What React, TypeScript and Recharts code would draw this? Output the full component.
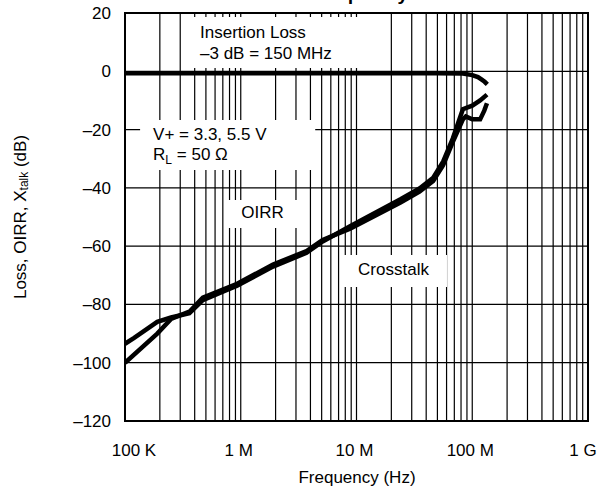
import React from "react";
import { LineChart, Line, XAxis, YAxis, CartesianGrid, ReferenceArea } from "recharts";

// decade labels on the log frequency axis
const decades = [1e5, 1e6, 1e7, 1e8, 1e9];
const decadeLabels = ["100 K", "1 M", "10 M", "100 M", "1 G"];

// every vertical grid line (1..9 per decade)
const gridFreqs = [
  1e5, 2e5, 3e5, 4e5, 5e5, 6e5, 7e5, 8e5, 9e5,
  1e6, 2e6, 3e6, 4e6, 5e6, 6e6, 7e6, 8e6, 9e6,
  1e7, 2e7, 3e7, 4e7, 5e7, 6e7, 7e7, 8e7, 9e7,
  1e8, 2e8, 3e8, 4e8, 5e8, 6e8, 7e8, 8e8, 9e8,
  1e9,
];

const dbTicks = [-120, -100, -80, -60, -40, -20, 0, 20];

const insertionLoss = [
  { f: 1e5, db: -0.7 },
  { f: 1e6, db: -0.7 },
  { f: 1e7, db: -0.7 },
  { f: 5e7, db: -0.7 },
  { f: 8.3e7, db: -0.8 },
  { f: 1.0e8, db: -1.3 },
  { f: 1.12e8, db: -2.0 },
  { f: 1.2e8, db: -2.8 },
  { f: 1.28e8, db: -3.6 },
  { f: 1.35e8, db: -4.5 },
];

const crosstalk = [
  { f: 1e5, db: -93.5 },
  { f: 1.2e5, db: -91.5 },
  { f: 1.9e5, db: -86 },
  { f: 2.5e5, db: -84.5 },
  { f: 3.6e5, db: -83 },
  { f: 4.7e5, db: -78.5 },
  { f: 7e5, db: -75.6 },
  { f: 9.3e5, db: -73.6 },
  { f: 1.9e6, db: -67 },
  { f: 3.7e6, db: -62.3 },
  { f: 5.1e6, db: -58.4 },
  { f: 8.8e6, db: -53.2 },
  { f: 2.4e7, db: -43.9 },
  { f: 3.5e7, db: -40.2 },
  { f: 4.6e7, db: -36.5 },
  { f: 5.6e7, db: -31 },
  { f: 6.8e7, db: -23 },
  { f: 8.3e7, db: -13 },
  { f: 1.0e8, db: -11.8 },
  { f: 1.17e8, db: -10 },
  { f: 1.34e8, db: -8 },
];

const oirr = [
  { f: 1e5, db: -100 },
  { f: 1.9e5, db: -90 },
  { f: 2.5e5, db: -85 },
  { f: 3.6e5, db: -82.5 },
  { f: 4.7e5, db: -77.7 },
  { f: 7e5, db: -74.9 },
  { f: 9.3e5, db: -72.9 },
  { f: 1.9e6, db: -66.3 },
  { f: 3.7e6, db: -61.7 },
  { f: 5.1e6, db: -57.9 },
  { f: 8.8e6, db: -54 },
  { f: 2.4e7, db: -45 },
  { f: 3.5e7, db: -41.3 },
  { f: 4.6e7, db: -37.6 },
  { f: 5.6e7, db: -32.2 },
  { f: 6.8e7, db: -24.2 },
  { f: 8.3e7, db: -16.5 },
  { f: 8.8e7, db: -15.5 },
  { f: 1.0e8, db: -16.5 },
  { f: 1.17e8, db: -16.5 },
  { f: 1.27e8, db: -13.5 },
  { f: 1.34e8, db: -11 },
];

// annotation boxes (white backgrounds that hide the grid), data coords
const notes = [
  { x1: 3.3e5, x2: 1.45e7, y1: 1.1, y2: 18.6, lines: ["Insertion Loss", "\u20133 dB = 150 MHz"], dx: 15, dy: [21, 42], anchor: "start" },
  { x1: 1.35e5, x2: 4.4e6, y1: -33.9, y2: -16.7, lines: ["V+ = 3.3, 5.5 V", "RL"], dx: 13, dy: [20, 40], anchor: "start" },
  { x1: 7.6e5, x2: 3.25e6, y1: -53.8, y2: -44.2, lines: ["OIRR"], dx: -1, dy: [18], anchor: "middle" },
  { x1: 7.5e6, x2: 6.05e7, y1: -74, y2: -63, lines: ["Crosstalk"], dx: -1, dy: [20], anchor: "middle" },
];

const FONT = "'Liberation Sans', Arial, Helvetica, sans-serif";
const dash = (v: number) => (v < 0 ? "\u2013" + Math.abs(v) : String(v));

const XTick = (props: any) => {
  const { x, y, payload } = props;
  const i = decades.indexOf(payload.value);
  if (i < 0) return <g />;
  const nudge = i === 0 ? 9 : i === decades.length - 1 ? -5 : -2;
  return (
    <text x={x + nudge} y={y + 33} textAnchor="middle" fontSize={17} fontFamily={FONT} fill="#000">
      {decadeLabels[i]}
    </text>
  );
};

const YTick = (props: any) => {
  const { x, y, payload } = props;
  return (
    <text x={x - 12} y={y + 6} textAnchor="end" fontSize={17} fontFamily={FONT} fill="#000">
      {dash(payload.value)}
    </text>
  );
};

const noteLabel = (n: (typeof notes)[number]) => (p: any) => {
  const vb = p.viewBox;
  const x = n.anchor === "middle" ? vb.x + vb.width / 2 + n.dx : vb.x + n.dx;
  return (
    <g>
      {n.lines.map((t, k) =>
        t === "RL" ? (
          <text key={k} x={x} y={vb.y + n.dy[k]} fontSize={17} fontFamily={FONT} fill="#000">
            R<tspan fontSize={12} dy={4}>L</tspan>
            <tspan dy={-4}> = 50 {"\u03A9"}</tspan>
          </text>
        ) : (
          <text key={k} x={x} y={vb.y + n.dy[k]} textAnchor={n.anchor as any} fontSize={17} fontFamily={FONT} fill="#000">
            {t}
          </text>
        )
      )}
    </g>
  );
};

export default function App() {
  return (
    <div style={{ position: "absolute", left: 0, top: 0, background: "#fff" }}>
      <LineChart width={599} height={487} margin={{ top: 13, right: 11, bottom: 16, left: 0 }}>
        {/* title sits above the page edge; only the descenders show, as in the source */}
        <text x={408} y={-0.5} textAnchor="end" fontSize={19} fontWeight="bold" fontFamily={FONT} fill="#000">
          Loss and Crosstalk vs. Frequency
        </text>
        <CartesianGrid stroke="#000" strokeWidth={1.2} />
        <XAxis
          dataKey="f"
          type="number"
          scale="log"
          domain={[1e5, 1e9]}
          allowDataOverflow
          ticks={gridFreqs}
          interval={0}
          tick={<XTick />}
          tickLine={false}
          axisLine={false}
          tickSize={0}
          height={50}
          label={{
            content: () => (
              <text x={357} y={483} textAnchor="middle" fontSize={17} fontFamily={FONT} fill="#000">
                Frequency (Hz)
              </text>
            ),
          }}
        />
        <YAxis
          type="number"
          domain={[-120, 20]}
          ticks={dbTicks}
          interval={0}
          tick={<YTick />}
          tickLine={false}
          axisLine={false}
          tickSize={0}
          width={125}
          label={{
            content: () => (
              <text
                x={20}
                y={217}
                transform="rotate(-90, 20, 217)"
                textAnchor="middle"
                dominantBaseline="central"
                fontSize={17}
                fontFamily={FONT}
                fill="#000"
              >
                Loss, OIRR, X<tspan fontSize={12} dy={4}>talk</tspan>
                <tspan dy={-4}> (dB)</tspan>
              </text>
            ),
          }}
        />
        {notes.map((n, i) => (
          <ReferenceArea
            key={i}
            x1={n.x1}
            x2={n.x2}
            y1={n.y1}
            y2={n.y2}
            fill="#fff"
            fillOpacity={1}
            stroke="none"
            label={noteLabel(n)}
          />
        ))}
        <ReferenceArea x1={1e5} x2={1e9} y1={-120} y2={20} fill="none" stroke="#000" strokeWidth={2} />
        <Line data={insertionLoss} dataKey="db" stroke="#000" strokeWidth={4.5} dot={false} isAnimationActive={false} />
        <Line data={crosstalk} dataKey="db" stroke="#000" strokeWidth={4.5} dot={false} isAnimationActive={false} />
        <Line data={oirr} dataKey="db" stroke="#000" strokeWidth={4.5} dot={false} isAnimationActive={false} />
      </LineChart>
    </div>
  );
}
